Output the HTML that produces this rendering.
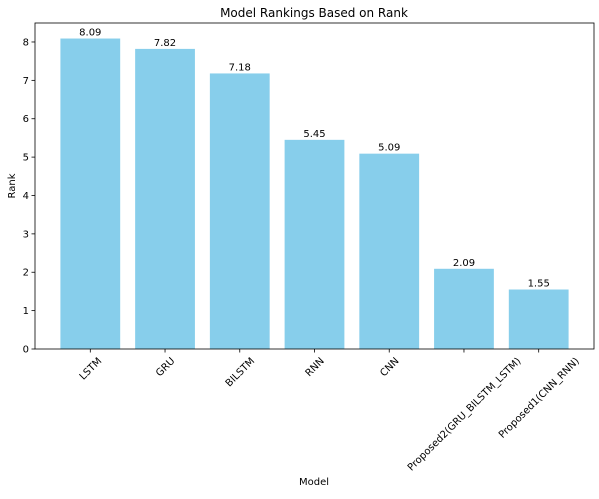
<!DOCTYPE html>
<html><head><meta charset="utf-8"><style>
body{margin:0;background:#fff;}
svg text{font-family:"DejaVu Sans","Liberation Sans",sans-serif;fill:#000;}
</style></head><body>
<svg id="chart" width="599" height="494" xmlns="http://www.w3.org/2000/svg">
<rect width="599" height="494" fill="#fff"/>
<text x="314" y="17" text-anchor="middle" font-size="12">Model Rankings Based on Rank</text>
<g id="bars"></g>
<g id="yaxis"></g>
<g id="xaxis"></g>
<rect x="35" y="23" width="559" height="326" fill="none" stroke="#000" stroke-width="0.8"/>
<text x="314" y="485" text-anchor="middle" font-size="10">Model</text>
<text transform="translate(15,186) rotate(-90)" text-anchor="middle" font-size="10">Rank</text>
</svg>
<script>
const categories=["LSTM","GRU","BILSTM","RNN","CNN","Proposed2(GRU_BILSTM_LSTM)","Proposed1(CNN_RNN)"];
const values=[8.09,7.82,7.18,5.45,5.09,2.09,1.55];
const labels=["8.09","7.82","7.18","5.45","5.09","2.09","1.55"];
const yTicks=[0,1,2,3,4,5,6,7,8];
const NS="http://www.w3.org/2000/svg";
const L=35,R=594,T=23,B=349;
const ymax=8.4945;
function y(v){return B-v/ymax*(B-T);}
const xmin=-0.74,xmax=categories.length-1+0.74;
function x(i){return L+(i-xmin)/(xmax-xmin)*(R-L);}
const unit=(R-L)/(xmax-xmin);
function mk(tag,attrs,parent){const e=document.createElementNS(NS,tag);for(const k in attrs)e.setAttribute(k,attrs[k]);parent.appendChild(e);return e;}
const bars=document.getElementById('bars'),ya=document.getElementById('yaxis'),xa=document.getElementById('xaxis');
values.forEach((v,i)=>{
 const r=mk('rect',{x:x(i)-0.4*unit,y:y(v),width:0.8*unit,height:B-y(v),fill:'#87ceeb'},bars);
 
 
 const t=mk('text',{x:x(i),y:y(v)-3,'text-anchor':'middle','font-size':'10'},bars);
 t.textContent=labels[i];
 
 
});
yTicks.forEach(v=>{
 mk('line',{x1:L-3.5,x2:L,y1:y(v),y2:y(v),stroke:'#000','stroke-width':0.8},ya);
 const t=mk('text',{x:L-6,y:y(v)+3.5,'text-anchor':'end','font-size':'10'},ya);
 t.textContent=v;
 
 
});
categories.forEach((c,i)=>{
 mk('line',{x1:x(i),x2:x(i),y1:B,y2:B+3.5,stroke:'#000','stroke-width':0.8},xa);
 const t=mk('text',{x:0,y:3.5,'text-anchor':'middle','font-size':'10'},xa);
 t.textContent=c;
 
 
 const len=t.getComputedTextLength();
 const cy=B+6+len*0.3536+4;
 t.setAttribute('transform',`translate(${x(i)},${cy}) rotate(-45)`);
});
</script>
</body></html>
